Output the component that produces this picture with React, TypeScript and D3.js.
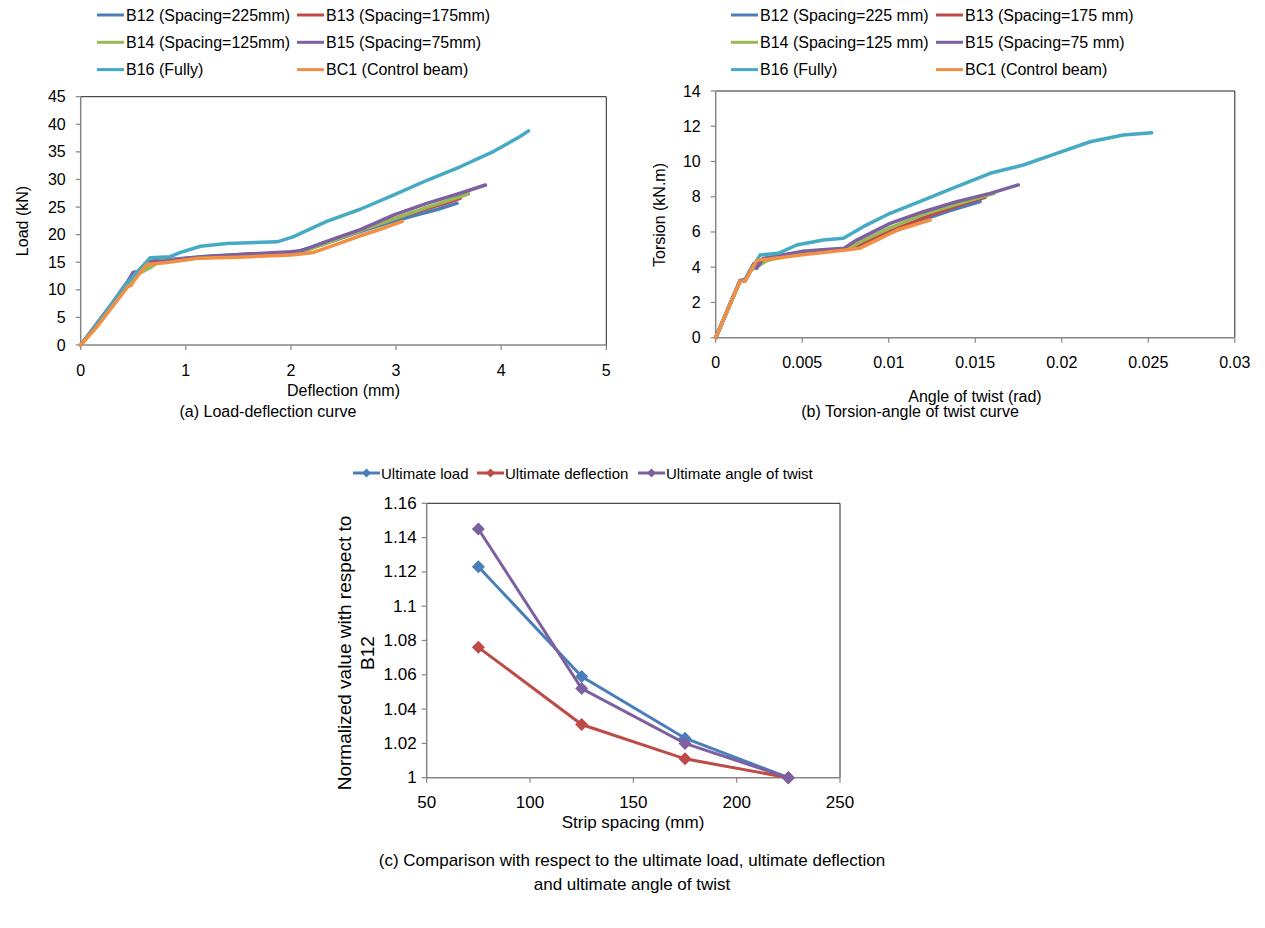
import React from "react";
import * as d3 from "d3";

// ---------- Data ----------
const seriesNames = [
  "B12 (Spacing=225mm)",
  "B13 (Spacing=175mm)",
  "B14 (Spacing=125mm)",
  "B15 (Spacing=75mm)",
  "B16 (Fully)",
  "BC1 (Control beam)",
];
const seriesNamesB = [
  "B12 (Spacing=225 mm)",
  "B13 (Spacing=175 mm)",
  "B14 (Spacing=125 mm)",
  "B15 (Spacing=75 mm)",
  "B16 (Fully)",
  "BC1 (Control beam)",
];
const seriesColors = ["#4A7EBB", "#BE4B48", "#98B954", "#7D60A0", "#46AAC5", "#F28F43"];

// (a) Load (kN) vs deflection (mm)
const loadB12 = [[0,0],[0.15,3.6],[0.3,7.3],[0.45,11.2],[0.5,12.8],[0.6,13.6],[0.66,15.2],[0.9,15.6],[1.2,16.1],[1.6,16.5],[1.9,16.6],[2.05,16.9],[2.3,18.2],[2.6,20.2],[2.9,22.0],[3.2,23.6],[3.4,24.6],[3.58,25.7]];
const loadB13 = [[0,0],[0.15,3.5],[0.3,7.2],[0.45,11.0],[0.5,12.6],[0.58,13.8],[0.65,15.0],[0.9,15.5],[1.2,16.0],[1.6,16.4],[2.05,16.8],[2.3,18.3],[2.6,20.4],[2.9,22.4],[3.2,24.2],[3.45,25.6],[3.61,26.6]];
const loadB14 = [[0,0],[0.15,3.5],[0.3,7.2],[0.45,11.0],[0.5,12.5],[0.6,13.4],[0.66,14.0],[0.75,15.2],[1.0,15.6],[1.4,16.1],[1.8,16.5],[2.1,16.8],[2.4,18.9],[2.7,21.0],[3.0,23.0],[3.3,25.0],[3.55,26.5],[3.69,27.4]];
const loadB15 = [[0,0],[0.15,3.8],[0.3,7.6],[0.45,11.6],[0.5,13.2],[0.56,13.3],[0.62,14.8],[0.9,15.4],[1.2,16.0],[1.6,16.5],[2.0,16.9],[2.1,17.1],[2.4,19.2],[2.66,20.9],[2.98,23.6],[3.3,25.7],[3.61,27.5],[3.85,29.0]];
const loadB16 = [[0,0],[0.15,3.6],[0.3,7.5],[0.45,11.4],[0.55,13.5],[0.66,15.8],[0.85,16.0],[0.95,16.8],[1.14,17.9],[1.39,18.4],[1.87,18.7],[2.02,19.6],[2.34,22.4],[2.66,24.6],[2.98,27.2],[3.3,29.9],[3.61,32.3],[3.93,35.1],[4.18,37.8],[4.26,38.8]];
const loadBC1 = [[0,0],[0.15,3.2],[0.3,6.9],[0.45,10.6],[0.48,10.8],[0.52,12.0],[0.63,14.6],[0.8,14.9],[1.0,15.4],[1.1,15.7],[1.5,15.9],[2.0,16.3],[2.2,16.7],[2.4,18.0],[2.66,19.8],[2.9,21.3],[3.06,22.4]];
const loadSeries = [loadB12, loadB13, loadB14, loadB15, loadB16, loadBC1];
const loadXTicks = [0, 1, 2, 3, 4, 5];
const loadYTicks = [0, 5, 10, 15, 20, 25, 30, 35, 40, 45];

// (b) Torsion (kN.m) vs angle of twist (rad)
const torB12 = [[0,0],[0.0014,3.2],[0.0017,3.25],[0.002,3.8],[0.0024,4.3],[0.003,4.5],[0.004,4.7],[0.005,4.85],[0.006,4.95],[0.0075,5.0],[0.0085,5.3],[0.01,5.9],[0.012,6.7],[0.0135,7.2],[0.01528,7.72]];
const torB13 = [[0,0],[0.0014,3.2],[0.0017,3.25],[0.002,3.8],[0.0024,4.3],[0.003,4.5],[0.005,4.85],[0.0075,5.0],[0.0085,5.4],[0.01,6.0],[0.012,6.8],[0.014,7.5],[0.01557,7.97]];
const torB14 = [[0,0],[0.0014,3.2],[0.0017,3.25],[0.002,3.8],[0.0025,4.1],[0.003,4.4],[0.005,4.8],[0.0075,5.0],[0.0085,5.5],[0.01,6.2],[0.012,7.0],[0.014,7.6],[0.01609,8.19]];
const torB15 = [[0,0],[0.0014,3.25],[0.0017,3.3],[0.002,3.85],[0.0022,4.2],[0.00237,3.94],[0.00275,4.5],[0.005,4.9],[0.0074,5.07],[0.00815,5.54],[0.01008,6.49],[0.012,7.15],[0.01393,7.72],[0.01586,8.19],[0.01749,8.67]];
const torB16 = [[0,0],[0.0014,3.2],[0.0017,3.25],[0.002,3.8],[0.00256,4.69],[0.00362,4.79],[0.00468,5.26],[0.00622,5.54],[0.00738,5.64],[0.00853,6.3],[0.01008,7.06],[0.012,7.81],[0.01393,8.57],[0.01586,9.33],[0.01778,9.8],[0.01971,10.46],[0.02164,11.12],[0.02356,11.5],[0.0252,11.63]];
const torBC1 = [[0,0],[0.0014,3.2],[0.0017,3.2],[0.002,3.75],[0.0024,4.4],[0.003,4.45],[0.005,4.7],[0.0075,4.98],[0.0083,5.07],[0.0093,5.54],[0.0105,6.11],[0.01239,6.68]];
const torSeries = [torB12, torB13, torB14, torB15, torB16, torBC1];
const torXTicks = [0, 0.005, 0.01, 0.015, 0.02, 0.025, 0.03];
const torYTicks = [0, 2, 4, 6, 8, 10, 12, 14];

// (c) Normalized values vs strip spacing
const spacing = [75, 125, 175, 225];
const ultLoad = [1.123, 1.059, 1.023, 1.0];
const ultDefl = [1.076, 1.031, 1.011, 1.0];
const ultTwist = [1.145, 1.052, 1.02, 1.0];
const compNames = ["Ultimate load", "Ultimate deflection", "Ultimate angle of twist"];
const compColors = ["#4A7EBB", "#BE4B48", "#7D60A0"];
const compXTicks = [50, 100, 150, 200, 250];
const compYTicks = [1, 1.02, 1.04, 1.06, 1.08, 1.1, 1.12, 1.14, 1.16];

const FONT = "Liberation Sans, Arial, sans-serif";
const AXIS = "#868686";

type Box = { l: number; r: number; t: number; b: number };

function Frame({ box, x, y, xt, yt, xfmt, yfmt, lblGap, fs }: any) {
  return (
    <g>
      <line x1={box.l} x2={box.r} y1={box.t} y2={box.t} stroke="#222" strokeWidth={1} />
      <line x1={box.r} x2={box.r} y1={box.t} y2={box.b} stroke="#222" strokeWidth={1} />
      <line x1={box.l} x2={box.l} y1={box.t} y2={box.b + 0.5} stroke={AXIS} strokeWidth={1.5} />
      <line x1={box.l} x2={box.r} y1={box.b} y2={box.b} stroke={AXIS} strokeWidth={1.5} />
      {yt.map((v: number) => (
        <g key={"y" + v}>
          <line x1={box.l - 5} x2={box.l} y1={y(v)} y2={y(v)} stroke={AXIS} strokeWidth={1.2} />
          <text x={box.l - lblGap} y={y(v)} textAnchor="end" dominantBaseline="central" fontSize={fs} fontFamily={FONT} fill="#000">
            {yfmt(v)}
          </text>
        </g>
      ))}
      {xt.map((v: number) => (
        <g key={"x" + v}>
          <line x1={x(v)} x2={x(v)} y1={box.b} y2={box.b + 5} stroke={AXIS} strokeWidth={1.2} />
          <text x={x(v)} y={box.b + 25} textAnchor="middle" dominantBaseline="central" fontSize={fs} fontFamily={FONT} fill="#000">
            {xfmt(v)}
          </text>
        </g>
      ))}
    </g>
  );
}

function Legend6({ names, x1, x2, y0, dy }: any) {
  return (
    <g>
      {names.map((n: string, i: number) => {
        const col = i % 2;
        const row = Math.floor(i / 2);
        const lx = col === 0 ? x1 : x2;
        const ly = y0 + row * dy;
        return (
          <g key={n}>
            <line x1={lx} x2={lx + 27} y1={ly} y2={ly} stroke={seriesColors[i]} strokeWidth={3} />
            <text x={lx + 29} y={ly} dominantBaseline="central" fontSize={16} fontFamily={FONT} fill="#000">
              {n}
            </text>
          </g>
        );
      })}
    </g>
  );
}

export default function App() {
  // (a)
  const boxA: Box = { l: 80.7, r: 606.3, t: 96.7, b: 345 };
  const xA = d3.scaleLinear().domain([0, 5]).range([boxA.l, boxA.r]);
  const yA = d3.scaleLinear().domain([0, 45]).range([boxA.b, boxA.t]);
  const lineA = d3.line<number[]>().x((d) => xA(d[0])).y((d) => yA(d[1]));

  // (b)
  const boxB: Box = { l: 715.7, r: 1234.8, t: 91, b: 337.7 };
  const xB = d3.scaleLinear().domain([0, 0.03]).range([boxB.l, boxB.r]);
  const yB = d3.scaleLinear().domain([0, 14]).range([boxB.b, boxB.t]);
  const lineB = d3.line<number[]>().x((d) => xB(d[0])).y((d) => yB(d[1]));

  // (c)
  const boxC: Box = { l: 426.7, r: 840, t: 503.3, b: 777.7 };
  const xC = d3.scaleLinear().domain([50, 250]).range([boxC.l, boxC.r]);
  const yC = d3.scaleLinear().domain([1, 1.16]).range([boxC.b, boxC.t]);
  const lineC = d3.line<number>().x((_, i) => xC(spacing[i])).y((d) => yC(d));
  const compSeries = [ultLoad, ultDefl, ultTwist];
  const diamond = (cx: number, cy: number, r: number) =>
    `M${cx},${cy - r}L${cx + r},${cy}L${cx},${cy + r}L${cx - r},${cy}Z`;

  const legC = [353, 477, 638];

  return (
    <svg width={1265} height={928} style={{ position: "absolute", left: 0, top: 0, background: "#fff" }}>
      <rect width={1265} height={928} fill="#fff" />
      {/* ---- (a) ---- */}
      <Legend6 names={seriesNames} x1={97} x2={297} y0={15} dy={27.3} />
      <Frame box={boxA} x={xA} y={yA} xt={loadXTicks} yt={loadYTicks} xfmt={(v: number) => String(v)} yfmt={(v: number) => String(v)} lblGap={15} fs={16} />
      <g>
        {loadSeries.map((s, i) => (
          <path key={i} d={lineA(s) || ""} fill="none" stroke={seriesColors[i]} strokeWidth={3.5} strokeLinejoin="round" strokeLinecap="round" />
        ))}
      </g>
      <text transform="translate(22,221) rotate(-90)" textAnchor="middle" dominantBaseline="central" fontSize={16} fontFamily={FONT}>Load (kN)</text>
      <text x={343.5} y={390} textAnchor="middle" dominantBaseline="central" fontSize={16} fontFamily={FONT}>Deflection (mm)</text>
      <text x={268} y={411} textAnchor="middle" dominantBaseline="central" fontSize={16} fontFamily={FONT}>(a) Load-deflection curve</text>

      {/* ---- (b) ---- */}
      <Legend6 names={seriesNamesB} x1={731} x2={936} y0={15} dy={27.3} />
      <Frame box={boxB} x={xB} y={yB} xt={torXTicks} yt={torYTicks} xfmt={(v: number) => String(v)} yfmt={(v: number) => String(v)} lblGap={15} fs={16} />
      <g>
        {torSeries.map((s, i) => (
          <path key={i} d={lineB(s) || ""} fill="none" stroke={seriesColors[i]} strokeWidth={3.5} strokeLinejoin="round" strokeLinecap="round" />
        ))}
      </g>
      <text transform="translate(659,215) rotate(-90)" textAnchor="middle" dominantBaseline="central" fontSize={16} fontFamily={FONT}>Torsion (kN.m)</text>
      <text x={975} y={396} textAnchor="middle" dominantBaseline="central" fontSize={16} fontFamily={FONT}>Angle of twist (rad)</text>
      <text x={910} y={411} textAnchor="middle" dominantBaseline="central" fontSize={16} fontFamily={FONT}>(b) Torsion-angle of twist curve</text>

      {/* ---- (c) ---- */}
      <g>
        {compNames.map((n, i) => (
          <g key={n}>
            <line x1={legC[i]} x2={legC[i] + 27} y1={473} y2={473} stroke={compColors[i]} strokeWidth={3} />
            <path d={diamond(legC[i] + 13.5, 473, 4.5)} fill={compColors[i]} />
            <text x={legC[i] + 28} y={473} dominantBaseline="central" fontSize={15} fontFamily={FONT}>{n}</text>
          </g>
        ))}
      </g>
      <Frame box={boxC} x={xC} y={yC} xt={compXTicks} yt={compYTicks} xfmt={(v: number) => String(v)} yfmt={(v: number) => d3.format("~g")(v)} lblGap={10} fs={17} />
      <g>
        {compSeries.map((s, i) => (
          <g key={i}>
            <path d={lineC(s) || ""} fill="none" stroke={compColors[i]} strokeWidth={3} />
            {s.map((v, j) => (
              <path key={j} d={diamond(xC(spacing[j]), yC(v), 6.5)} fill={compColors[i]} />
            ))}
          </g>
        ))}
      </g>
      <text transform="translate(344,653) rotate(-90)" textAnchor="middle" dominantBaseline="central" fontSize={19} fontFamily={FONT}>Normalized value with respect to</text>
      <text transform="translate(367,653) rotate(-90)" textAnchor="middle" dominantBaseline="central" fontSize={19} fontFamily={FONT}>B12</text>
      <text x={633} y={822} textAnchor="middle" dominantBaseline="central" fontSize={17} fontFamily={FONT}>Strip spacing (mm)</text>
      <text x={632} y={860} textAnchor="middle" dominantBaseline="central" fontSize={17} fontFamily={FONT}>(c) Comparison with respect to the ultimate load, ultimate deflection</text>
      <text x={632} y={884} textAnchor="middle" dominantBaseline="central" fontSize={17} fontFamily={FONT}>and ultimate angle of twist</text>
    </svg>
  );
}
